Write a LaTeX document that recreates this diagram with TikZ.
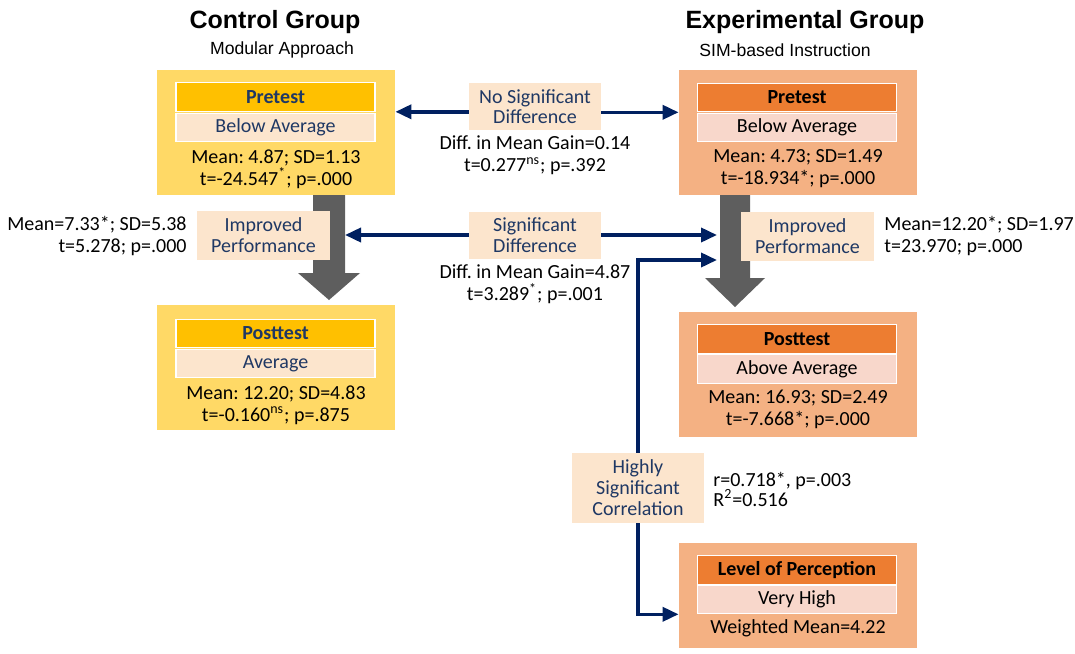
\documentclass[tikz,border=0pt]{standalone}
\usepackage{fontspec}
\setmainfont{Carlito}
\newfontfamily\arialfont{Liberation Sans}
\usetikzlibrary{arrows.meta}
\frenchspacing
\definecolor{ctrlouter}{HTML}{FFD966}
\definecolor{ctrlhead}{HTML}{FFC000}
\definecolor{paleorange}{HTML}{FCE5CD}
\definecolor{expouter}{HTML}{F4B183}
\definecolor{exphead}{HTML}{ED7D31}
\definecolor{exppale}{HTML}{F8D7CB}
\definecolor{navytext}{HTML}{1F3864}
\definecolor{navyline}{HTML}{002060}
\definecolor{arrowgrey}{HTML}{5E5E5E}
\begin{document}
\begin{tikzpicture}[x=0.5pt, y=-0.5pt,
    every node/.style={font=\fontsize{10}{11}\selectfont, inner sep=0pt},
    outerbox/.style={minimum width=119pt, minimum height=62.5pt},
    cout/.style={outerbox, fill=ctrlouter},
    eout/.style={outerbox, fill=expouter},
    headbox/.style={draw=white, line width=0.6pt, minimum width=99.5pt, minimum height=14.2pt, font=\fontsize{10}{11}\selectfont\bfseries},
    chead/.style={headbox, fill=ctrlhead, text=navytext},
    ehead/.style={headbox, fill=exphead, text=black},
    csubbox/.style={headbox, fill=paleorange, text=navytext, font=\fontsize{10}{11}\selectfont},
    esubbox/.style={headbox, fill=exppale, text=black, font=\fontsize{10}{11}\selectfont},
    stats/.style={align=center, font=\fontsize{10}{11}\selectfont},
    midbox/.style={fill=paleorange, text=navytext, align=center, minimum width=66pt, minimum height=23.5pt, font=\fontsize{10}{10.2}\selectfont},
    titletext/.style={font=\arialfont\bfseries\fontsize{12.5}{14}\selectfont},
    subtitle/.style={font=\arialfont\fontsize{8.8}{10}\selectfont},
    link/.style={draw=navyline, line width=1.8pt, -{Triangle[length=8pt,width=7pt]}},
    bigarrow/.style={fill=arrowgrey}]
    \useasboundingbox (0,0) rectangle (1075,653);
    % Ueberschriften
    \node[titletext] (ctitle) at (275,22) {Control Group};
    \node[subtitle] (csub) at (282,50) {Modular Approach};
    \node[titletext] (etitle) at (805,22) {Experimental Group};
    \node[subtitle] (esub) at (785,50) {SIM-based Instruction};
    % graue Pfeile
    \fill[bigarrow] (313,195) -- (345,195) -- (345,273) -- (360,273) -- (329,300)
        -- (298,273) -- (313,273) -- cycle;
    \fill[bigarrow] (720,195) -- (750,195) -- (750,278) -- (765,278) -- (735,307)
        -- (705,278) -- (720,278) -- cycle;
    \coordinate (cshaft) at (345,195);
    \coordinate (eshaft) at (717,195);
    % Kontrollgruppe
    \node[cout] (cpre) at (276,132.5) {};
    \node[chead] (cprehd) at (275.5,97) {Pretest};
    \node[csubbox] (cpresub) at (275.5,127.5) {Below Average};
    \node[stats] (cprestat) at (276,169) {Mean: 4.87; SD=1.13\\t=-24.547\textsuperscript{*}; p=.000};
    \node[cout] (cpost) at (276,367.5) {};
    \node[chead] (cposthd) at (275.5,333.5) {Posttest};
    \node[csubbox] (cpostsub) at (275.5,363.5) {Average};
    \node[stats] (cpoststat) at (276,405) {Mean: 12.20; SD=4.83\\t=-0.160\textsuperscript{ns}; p=.875};
    % Experimentalgruppe
    \node[eout] (epre) at (798,132.5) {};
    \node[ehead] (eprehd) at (797,97.5) {Pretest};
    \node[esubbox] (epresub) at (797,127.5) {Below Average};
    \node[stats] (eprestat) at (798,168.5) {Mean: 4.73; SD=1.49\\t=-18.934*; p=.000};
    \node[eout] (epost) at (798,374.5) {};
    \node[ehead] (eposthd) at (797,339) {Posttest};
    \node[esubbox] (epostsub) at (797,369) {Above Average};
    \node[stats] (epoststat) at (798,409.5) {Mean: 16.93; SD=2.49\\t=-7.668*; p=.000};
    \node[eout, minimum height=52.5pt] (eperc) at (798,595.5) {};
    \node[ehead] (eperchd) at (797,570) {Level of Perception};
    \node[esubbox] (epercsub) at (797,599.5) {Very High};
    \node[stats] (epercstat) at (798,628) {Weighted Mean=4.22};
    % Verbesserung
    \node[midbox, minimum width=66.5pt, minimum height=24.5pt] (cimp) at (263.5,235) {Improved\\Performance};
    \node[stats, anchor=east, align=right] (cimpstat) at (187,236) {Mean=7.33*; SD=5.38\\t=5.278; p=.000};
    \node[midbox, minimum width=66.5pt, minimum height=24.5pt] (eimp) at (807.5,236) {Improved\\Performance};
    \node[stats, anchor=west, align=left] (eimpstat) at (884,236) {Mean=12.20*; SD=1.97\\t=23.970; p=.000};
    % Vergleiche
    \node[midbox] (nosig) at (535,106.5) {No Significant\\Difference};
    \node[stats] (nosigstat) at (535,155.5) {Diff. in Mean Gain=0.14\\t=0.277\textsuperscript{ns}; p=.392};
    \node[midbox] (sig) at (535,235) {Significant\\Difference};
    \node[stats] (sigstat) at (535,284) {Diff. in Mean Gain=4.87\\t=3.289\textsuperscript{*}; p=.001};
    \node[midbox, minimum height=35pt, font=\fontsize{10}{10.5}\selectfont] (corr) at (638,488) {Highly\\Significant\\Correlation};
    \node[stats, anchor=west, align=left, font=\fontsize{10}{10}\selectfont] (corrstat) at (713,489) {r=0.718*, p=.003\\R\textsuperscript{2}=0.516};
    \coordinate (ejoin) at (717,260);
    % Verbindungen
    \draw[link] (nosig.west |- cprehd.south) -- (cprehd.south -| cpre.east);
    \draw[link] (nosig.east |- eprehd.south) -- (eprehd.south -| epre.west);
    \draw[link] (sig.west) -- (sig.west -| cshaft);
    \draw[link] (sig.east) -- (sig.east -| eshaft);
    \draw[link] (corr.north) |- (ejoin);
    \draw[link] (corr.south) |- (epercsub.south -| eperc.west);
\end{tikzpicture}
\end{document}
